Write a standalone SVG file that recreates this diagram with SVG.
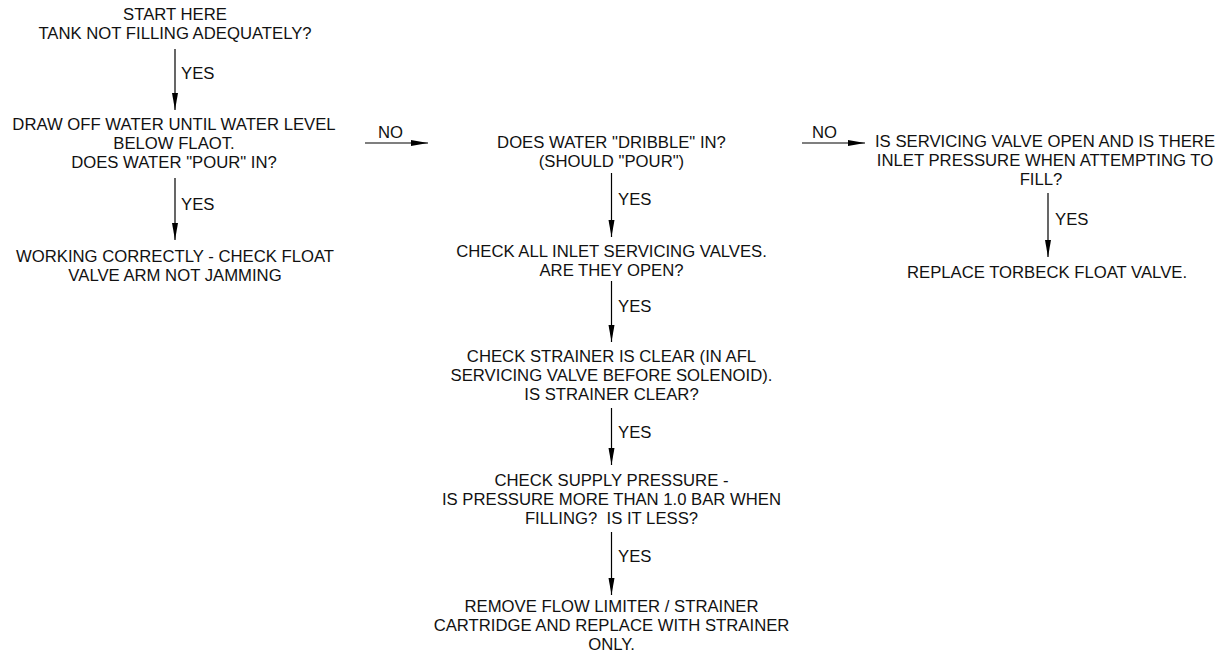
<svg xmlns="http://www.w3.org/2000/svg" width="1218" height="654" viewBox="0 0 1218 654">
<style>
text{font-family:"Liberation Sans",Arial,sans-serif;font-size:16.7px;fill:#111;white-space:pre}
.c{text-anchor:middle}
.ln{stroke:#000;stroke-width:1.2;fill:none;marker-end:url(#ah)}
</style>
<defs>
<marker id="ah" markerUnits="userSpaceOnUse" markerWidth="17" markerHeight="7" refX="17" refY="3.5" orient="auto">
<path d="M0,0.5 L17,3.5 L0,6.5 z" fill="#000"/>
</marker>
</defs>
<rect width="1218" height="654" fill="#fff"/>
<g id="n1"><text class="c" x="175" y="20">START HERE</text><text class="c" x="175" y="39">TANK NOT FILLING ADEQUATELY?</text></g>
<g id="n2"><text class="c" x="174" y="130">DRAW OFF WATER UNTIL WATER LEVEL</text><text class="c" x="174" y="149">BELOW FLAOT.</text><text class="c" x="174" y="168">DOES WATER "POUR" IN?</text></g>
<g id="n3"><text class="c" x="175" y="262">WORKING CORRECTLY - CHECK FLOAT</text><text class="c" x="175" y="281">VALVE ARM NOT JAMMING</text></g>
<g id="n4"><text class="c" x="611.5" y="148">DOES WATER "DRIBBLE" IN?</text><text class="c" x="611.5" y="167">(SHOULD "POUR")</text></g>
<g id="n5"><text class="c" x="611.5" y="257">CHECK ALL INLET SERVICING VALVES.</text><text class="c" x="611.5" y="276">ARE THEY OPEN?</text></g>
<g id="n6"><text class="c" x="611.5" y="362">CHECK STRAINER IS CLEAR (IN AFL</text><text class="c" x="611.5" y="381">SERVICING VALVE BEFORE SOLENOID).</text><text class="c" x="611.5" y="400">IS STRAINER CLEAR?</text></g>
<g id="n7"><text class="c" x="611.5" y="486">CHECK SUPPLY PRESSURE -</text><text class="c" x="611.5" y="505">IS PRESSURE MORE THAN 1.0 BAR WHEN</text><text class="c" x="611.5" y="524">FILLING?  IS IT LESS?</text></g>
<g id="n8"><text class="c" x="611.5" y="612">REMOVE FLOW LIMITER / STRAINER</text><text class="c" x="611.5" y="631">CARTRIDGE AND REPLACE WITH STRAINER</text><text class="c" x="611.5" y="650">ONLY.</text></g>
<g id="n9"><text class="c" x="1045" y="147">IS SERVICING VALVE OPEN AND IS THERE</text><text class="c" x="1045" y="166">INLET PRESSURE WHEN ATTEMPTING TO</text><text class="c" x="1041" y="185">FILL?</text></g>
<g id="n10"><text class="c" x="1047" y="278">REPLACE TORBECK FLOAT VALVE.</text></g>
<g id="connectors">
<line class="ln" x1="175" y1="49" x2="175" y2="110"/><text x="181" y="79">YES</text>
<line class="ln" x1="175" y1="178" x2="175" y2="240"/><text x="181" y="210">YES</text>
<line class="ln" x1="365" y1="143" x2="428" y2="143"/><text x="378" y="138">NO</text>
<line class="ln" x1="802" y1="143" x2="865" y2="143"/><text x="812" y="138">NO</text>
<line class="ln" x1="611.5" y1="173" x2="611.5" y2="237"/><text x="618" y="205">YES</text>
<line class="ln" x1="611.5" y1="281" x2="611.5" y2="342"/><text x="618" y="312">YES</text>
<line class="ln" x1="611.5" y1="408" x2="611.5" y2="465"/><text x="618" y="438">YES</text>
<line class="ln" x1="611.5" y1="532" x2="611.5" y2="595"/><text x="618" y="562">YES</text>
<line class="ln" x1="1048" y1="193" x2="1048" y2="257"/><text x="1055" y="225">YES</text>
</g>
</svg>
